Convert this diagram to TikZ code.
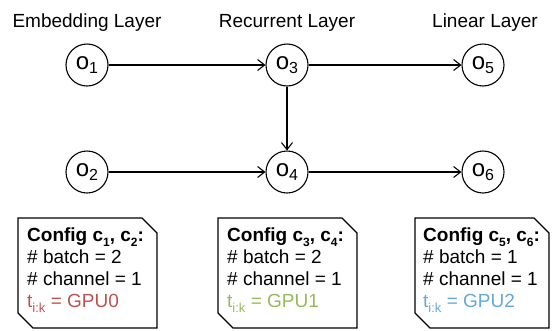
\documentclass[tikz,border=0pt]{standalone}
\usepackage{fontspec}
\setmainfont{Liberation Sans}
\usetikzlibrary{arrows.meta}
\definecolor{gpured}{RGB}{184,84,80}
\definecolor{gpugreen}{RGB}{150,185,90}
\definecolor{gpublue}{RGB}{100,170,210}
\newcommand{\lsub}[2][13]{\raisebox{-4.5pt}{\fontsize{#1}{#1}\selectfont #2}}
\tikzset{
  op/.style={draw, circle, minimum size=42pt, inner sep=0pt, line width=1.1pt,
             font=\fontsize{24}{24}\selectfont},
  layer/.style={anchor=base, font=\fontsize{19}{22}\selectfont},
  flow/.style={line width=1.1pt, -{Straight Barb[length=7pt,width=11pt]}},
  cfg/.style={anchor=north west, align=left, inner sep=0pt,
              font=\fontsize{19}{22}\selectfont},
}
\begin{document}
\begin{tikzpicture}[x=1pt, y=1pt]
  \useasboundingbox (0,0) rectangle (553,-330);
  % layer titles
  \node[layer] (embed) at (87,-27) {Embedding Layer};
  \node[layer] (recur) at (287,-27) {Recurrent Layer};
  \node[layer] (linear) at (485,-27) {Linear Layer};
  % operators
  \node[op] (o1) at (87,-65) {o\lsub[16]{1}};
  \node[op] (o2) at (87,-172) {o\lsub[16]{2}};
  \node[op] (o3) at (287,-65) {o\lsub[16]{3}};
  \node[op] (o4) at (287,-172) {o\lsub[16]{4}};
  \node[op] (o5) at (483,-65) {o\lsub[16]{5}};
  \node[op] (o6) at (483,-172) {o\lsub[16]{6}};
  \draw[flow] (o1) -- (o3);
  \draw[flow] (o3) -- (o5);
  \draw[flow] (o3) -- (o4);
  \draw[flow] (o2) -- (o4);
  \draw[flow] (o4) -- (o6);
  % config boxes
  \foreach \x/\w in {18/139, 218/139, 415/134}
    \draw[line width=1.1pt] (\x,-218) -- (\x+\w-15,-218) -- (\x+\w,-233)
      -- (\x+\w,-328) -- (\x+15,-328) -- (\x,-313) -- cycle;
  \node[cfg] (cfg1) at (27,-228) {\textbf{Config c\lsub[12]{1}, c\lsub[12]{2}:}\\
    \# batch = 2\\ \# channel = 1\\
    \textcolor{gpured}{t\lsub{i:k} = GPU0}};
  \node[cfg] (cfg2) at (227,-228) {\textbf{Config c\lsub[12]{3}, c\lsub[12]{4}:}\\
    \# batch = 2\\ \# channel = 1\\
    \textcolor{gpugreen}{t\lsub{i:k} = GPU1}};
  \node[cfg] (cfg3) at (423,-228) {\textbf{Config c\lsub[12]{5}, c\lsub[12]{6}:}\\
    \# batch = 1\\ \# channel = 1\\
    \textcolor{gpublue}{t\lsub{i:k} = GPU2}};
\end{tikzpicture}
\end{document}
